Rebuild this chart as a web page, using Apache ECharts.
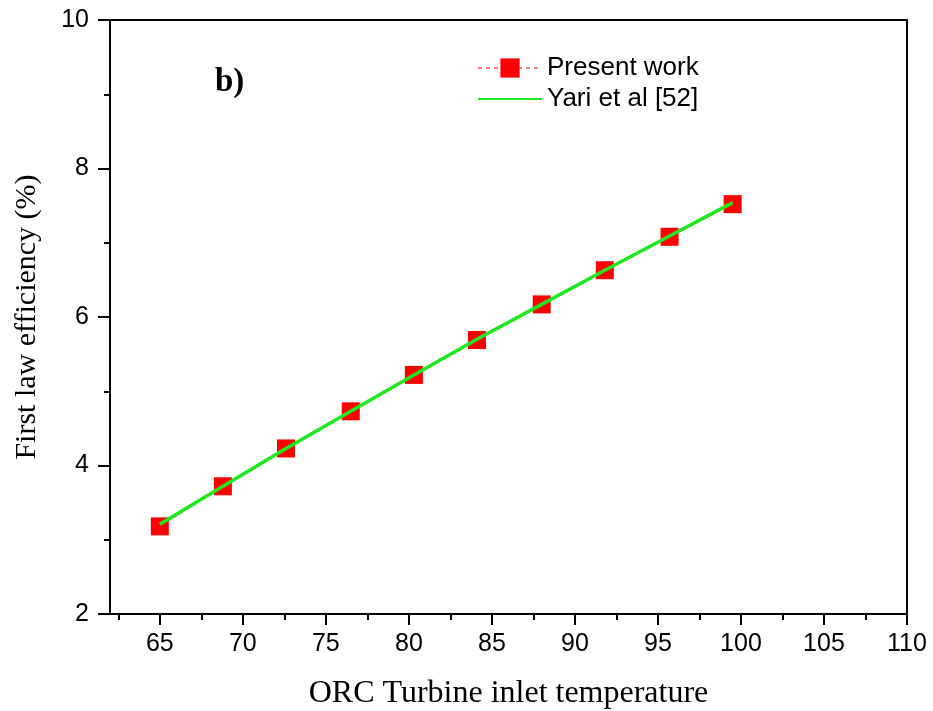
<!DOCTYPE html>
<html>
<head>
<meta charset="utf-8">
<title>First law efficiency vs ORC turbine inlet temperature</title>
<script src="https://cdn.jsdelivr.net/npm/echarts@6/dist/echarts.min.js"></script>
<style>
  html, body { margin: 0; padding: 0; background: #fff; }
  #chart { width: 933px; height: 711px; }
</style>
</head>
<body>
<div id="chart"></div>
<script>
// Turbine inlet temperature values
const temperature = [65, 68.8, 72.6, 76.5, 80.3, 84.1, 88, 91.8, 95.7, 99.5];
// First law efficiency (%), present work
const presentWork = [3.18, 3.72, 4.23, 4.73, 5.22, 5.69, 6.17, 6.63, 7.08, 7.52];
// First law efficiency (%), Yari et al [52]
const yariEtAl = [3.21, 3.72, 4.23, 4.73, 5.22, 5.70, 6.17, 6.63, 7.09, 7.54];

// Axis tick positions
const xMajorTicks = [65, 70, 75, 80, 85, 90, 95, 100, 105, 110];
const xMinorTicks = [62.5, 67.5, 72.5, 77.5, 82.5, 87.5, 92.5, 97.5, 102.5, 107.5];

const X_MIN = 62, X_MAX = 110;
const axisColor = '#000';

const chart = echarts.init(document.getElementById('chart'));

const pair = (xs, ys) => xs.map((x, i) => [x, ys[i]]);

chart.setOption({
  animation: false,
  backgroundColor: '#fff',
  grid: { left: 110, right: 26, top: 20, bottom: 97, containLabel: false, outerBoundsMode: 'none' },
  legend: {
    orient: 'vertical',
    left: 472,
    top: 50,
    itemWidth: 64,
    itemHeight: 24,
    itemGap: 5,
    textStyle: { fontFamily: 'Liberation Sans, Arial', fontSize: 26, color: '#000' },
    data: [
      { name: 'Present work' },
      { name: 'Yari et al [52]', itemStyle: { opacity: 0 } }
    ]
  },
  graphic: [{
    type: 'text',
    left: 215,
    top: 66,
    style: { text: 'b)', font: 'bold 33px "Liberation Serif", "Times New Roman", serif', fill: '#000' }
  }],
  xAxis: [
    {
      type: 'value', position: 'bottom', min: X_MIN, max: X_MAX,
      name: 'ORC Turbine inlet temperature', nameLocation: 'middle', nameGap: 64,
      nameTextStyle: { fontFamily: 'Liberation Serif, Times New Roman', fontSize: 32, color: '#000' },
      axisLine: { show: true, onZero: false, lineStyle: { color: axisColor, width: 2 } },
      axisTick: { show: true, inside: false, length: 11, customValues: xMajorTicks, lineStyle: { color: axisColor, width: 2 } },
      axisLabel: { show: true, margin: 18, customValues: xMajorTicks, fontFamily: 'Liberation Sans, Arial', fontSize: 25, color: '#000' },
      splitLine: { show: false }
    },
    {
      type: 'value', position: 'bottom', min: X_MIN, max: X_MAX,
      axisLine: { show: false, onZero: false },
      axisTick: { show: true, inside: false, length: 6, customValues: xMinorTicks, lineStyle: { color: axisColor, width: 2 } },
      axisLabel: { show: false },
      splitLine: { show: false }
    },
    {
      type: 'value', position: 'top', min: X_MIN, max: X_MAX,
      axisLine: { show: true, onZero: false, lineStyle: { color: axisColor, width: 2 } },
      axisTick: { show: false }, axisLabel: { show: false }, splitLine: { show: false }
    }
  ],
  yAxis: [
    {
      type: 'value', position: 'left', min: 2, max: 10, interval: 2,
      name: 'First law efficiency (%)', nameLocation: 'middle', nameGap: 68,
      nameTextStyle: { fontFamily: 'Liberation Serif, Times New Roman', fontSize: 30, color: '#000' },
      axisLine: { show: true, onZero: false, lineStyle: { color: axisColor, width: 2 } },
      axisTick: { show: true, inside: false, length: 12, lineStyle: { color: axisColor, width: 2 } },
      minorTick: { show: true, splitNumber: 2, length: 6, lineStyle: { color: axisColor, width: 2 } },
      axisLabel: { show: true, margin: 21, fontFamily: 'Liberation Sans, Arial', fontSize: 25, color: '#000' },
      splitLine: { show: false }, minorSplitLine: { show: false }
    },
    {
      type: 'value', position: 'right', min: 2, max: 10, interval: 2,
      axisLine: { show: true, onZero: false, lineStyle: { color: axisColor, width: 2 } },
      axisTick: { show: false }, axisLabel: { show: false }, splitLine: { show: false }
    }
  ],
  series: [
    {
      name: 'Present work',
      type: 'line',
      xAxisIndex: 0, yAxisIndex: 0,
      data: pair(temperature, presentWork),
      symbol: 'rect',
      symbolSize: 18,
      itemStyle: { color: '#ff0000' },
      lineStyle: { color: '#ff7a7a', width: 1.5, type: [4, 4] },
      z: 2
    },
    {
      name: 'Yari et al [52]',
      type: 'line',
      xAxisIndex: 0, yAxisIndex: 0,
      data: pair(temperature, yariEtAl),
      symbol: 'none',
      itemStyle: { color: '#1ee81e' },
      lineStyle: { color: '#1ee81e', width: 3.5 },
      z: 3
    }
  ]
});
</script>
</body>
</html>
